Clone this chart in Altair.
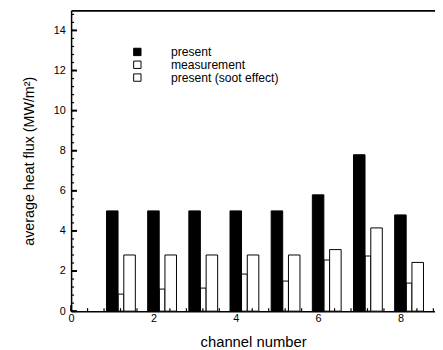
import altair as alt
import pandas as pd

channels = [1, 2, 3, 4, 5, 6, 7, 8]
present = [5.0, 5.0, 5.0, 5.0, 5.0, 5.8, 7.8, 4.8]
measurement = [0.85, 1.1, 1.15, 1.85, 1.5, 2.55, 2.75, 1.4]
soot = [2.8, 2.8, 2.8, 2.8, 2.8, 3.07, 4.15, 2.43]
series_names = ["present", "measurement", "present (soot effect)"]
x_ticks = [0, 2, 4, 6, 8]
y_ticks = [0, 2, 4, 6, 8, 10, 12, 14]
x_minor = [round(i * 0.4, 2) for i in range(0, 23)]
y_minor = [round(i * 0.4, 2) for i in range(0, 38)]

rows = []
for name, vals in [("measurement", measurement), ("present", present), ("present (soot effect)", soot)]:
    for c, v in zip(channels, vals):
        rows.append({"channel": c, "series": name, "value": v})
df = pd.DataFrame(rows)

FONT = "Liberation Sans"
W, H = 369, 305

base = alt.Chart(df).transform_calculate(
    x0="datum.channel + (datum.series == 'present' ? -0.14 : datum.series == 'measurement' ? 0.14 : 0.28)",
    x1="datum.channel + (datum.series == 'present' ? 0.14 : datum.series == 'measurement' ? 0.28 : 0.56)",
    y0="0",
)

xscale = alt.Scale(domain=[0, 8.84], nice=False, zero=False)
yscale = alt.Scale(domain=[0, 15], nice=False)

legend = alt.Legend(
    orient="none", legendX=61, legendY=36, title=None,
    symbolType="square", symbolSize=56, symbolStrokeColor="black", symbolStrokeWidth=1,
    labelFont=FONT, labelFontSize=12.3, labelColor="black", labelOffset=28, rowPadding=0,
)

bars = base.mark_rect(stroke="black", strokeWidth=1).encode(
    x=alt.X("x0:Q", scale=xscale, axis=alt.Axis(
        values=x_ticks, title="channel number", tickSize=0, grid=False,
        domainColor="black", domainWidth=1.5, labelFont=FONT, labelFontSize=11,
        labelColor="black", labelPadding=2, titleFont=FONT, titleFontSize=15,
        titleFontWeight="normal", titleColor="black", titlePadding=11,
        labelFlush=False)),
    x2="x1:Q",
    y=alt.Y("value:Q", scale=yscale, axis=alt.Axis(
        values=y_ticks, title="average heat flux (MW/m²)", tickSize=0, grid=False,
        domainColor="black", domainWidth=1.5, labelFont=FONT, labelFontSize=11,
        labelColor="black", labelPadding=6, titleFont=FONT, titleFontSize=14.5,
        titleFontWeight="normal", titleColor="black", titlePadding=17)),
    y2="y0:Q",
    fill=alt.Fill("series:N", scale=alt.Scale(domain=series_names, range=["black", "white", "white"]), legend=legend),
    strokeDash=alt.StrokeDash("series:N", scale=alt.Scale(domain=series_names, range=[[1, 0], [1, 0], [3, 2]]), legend=legend),
)


def y_tick_marks(values, length, width):
    return alt.Chart(pd.DataFrame({"v": values})).mark_rule(color="black", strokeWidth=width).encode(
        y=alt.Y("v:Q", scale=yscale, axis=None),
        x=alt.value(0), x2=alt.value(length))


def x_tick_marks(values, length, width):
    return alt.Chart(pd.DataFrame({"v": values})).mark_rule(color="black", strokeWidth=width).encode(
        x=alt.X("v:Q", scale=xscale, axis=None),
        y=alt.value(H), y2=alt.value(H - length))


top = base.mark_rect(opacity=0).encode(
    x=alt.X("x0:Q", scale=xscale, axis=alt.Axis(orient="top", labels=False, ticks=False, grid=False,
                                                 title=None, domainColor="black", domainWidth=2)),
    x2="x1:Q",
    y=alt.Y("value:Q", scale=yscale, axis=None), y2="y0:Q")

chart = alt.layer(
    bars,
    y_tick_marks(y_ticks, 6, 2),
    y_tick_marks(y_minor, 3, 1.2),
    x_tick_marks(x_ticks, 6, 2),
    x_tick_marks(x_minor, 3, 1.2),
    top,
).resolve_axis(x="independent", y="independent").properties(
    width=W, height=H,
    autosize=alt.AutoSizeParams(type="none"),
    padding={"left": 64, "top": 0, "right": 0, "bottom": 37},
).configure_view(stroke=None)

chart.save("out.html", embed_options={"renderer": "svg", "actions": False})
